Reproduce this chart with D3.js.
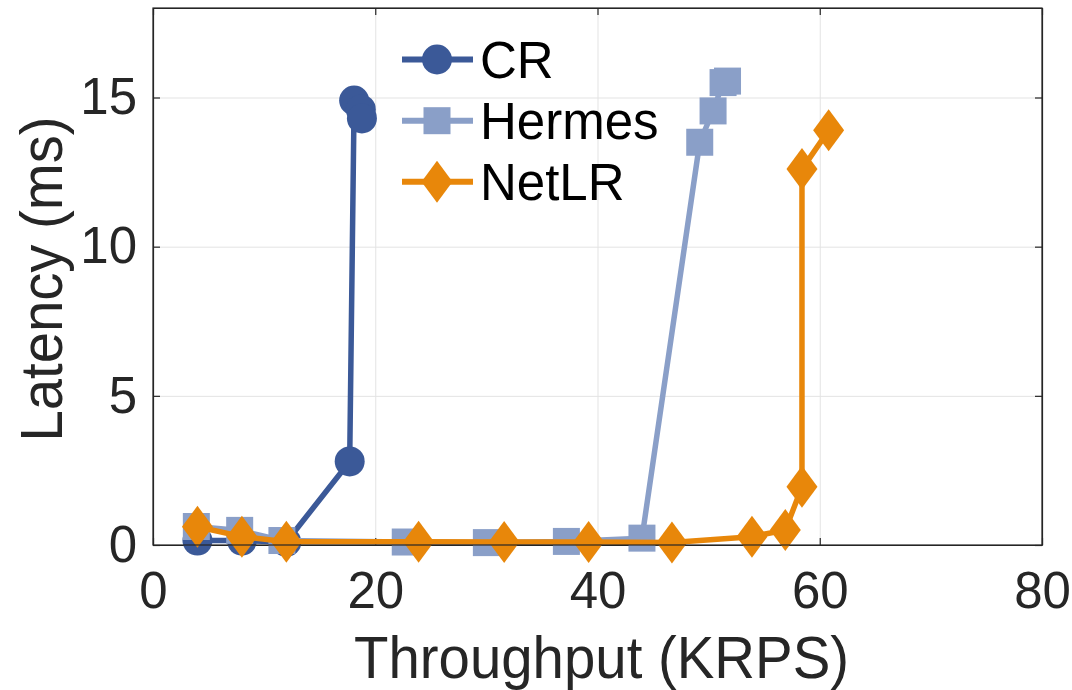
<!DOCTYPE html>
<html><head><meta charset="utf-8">
<script src="https://cdn.jsdelivr.net/npm/d3@7"></script>
<style>html,body{margin:0;padding:0;background:#fff;}svg{display:block;}</style>
</head><body>
<svg id="c" width="1072" height="690"></svg>
<script>
const seriesNames = ["CR", "Hermes", "NetLR"];
const seriesColors = ["#3b5998", "#8a9fc8", "#e8870a"];
const crX = [4.0, 8.0, 12.0, 17.7, 18.1, 18.7, 18.8];
const crY = [0.15, 0.15, 0.1, 2.8, 14.9, 14.6, 14.3];
const hermesX = [3.9, 7.8, 11.6, 22.7, 30.0, 37.2, 44.0, 49.2, 50.4, 51.3, 51.7];
const hermesY = [0.62, 0.49, 0.15, 0.1, 0.08, 0.12, 0.23, 13.5, 14.55, 15.5, 15.55];
const netlrX = [4.0, 8.0, 12.0, 23.9, 31.6, 39.2, 46.7, 53.9, 56.9, 58.4, 58.4, 60.8];
const netlrY = [0.61, 0.28, 0.11, 0.11, 0.1, 0.1, 0.08, 0.28, 0.5, 1.95, 12.6, 13.9];
const xTicks = [0, 20, 40, 60, 80];
const yTicks = [0, 5, 10, 15];
const xLabel = "Throughput (KRPS)";
const yLabel = "Latency (ms)";

const W = 1072, H = 690;
const m = {l: 153, r: 30, t: 8, b: 145};
const svg = d3.select("#c");
const x = d3.scaleLinear().domain([0, 80]).range([m.l, W - m.r]);
const y = d3.scaleLinear().domain([0, 18]).range([H - m.b, m.t]);
const pw = W - m.l - m.r, ph = H - m.t - m.b;
const FONT = "'Liberation Sans', Arial, Helvetica, sans-serif";
const TXT = "#262626";

// grid
svg.append("g").attr("transform", `translate(0,${H - m.b})`)
  .call(d3.axisBottom(x).tickValues(xTicks).tickSize(-ph).tickFormat(""))
  .call(g => { g.select(".domain").remove(); g.selectAll("line").attr("stroke", "#e3e3e3").attr("stroke-width", 1); });
svg.append("g").attr("transform", `translate(${m.l},0)`)
  .call(d3.axisLeft(y).tickValues(yTicks).tickSize(-pw).tickFormat(""))
  .call(g => { g.select(".domain").remove(); g.selectAll("line").attr("stroke", "#e3e3e3").attr("stroke-width", 1); });

// axes with inside ticks
function styleAxis(g) {
  g.select(".domain").attr("stroke", TXT).attr("stroke-width", 1.2);
  g.selectAll(".tick line").attr("stroke", TXT).attr("stroke-width", 1.2);
  g.selectAll("text").attr("fill", TXT).style("font-family", FONT).style("font-size", "51px");
}
svg.append("g").attr("transform", `translate(0,${H - m.b})`)
  .call(d3.axisBottom(x).tickValues(xTicks).tickSizeInner(-7).tickSizeOuter(0).tickPadding(27))
  .call(styleAxis);
svg.append("g").attr("transform", `translate(${m.l},0)`)
  .call(d3.axisLeft(y).tickValues(yTicks).tickSizeInner(-7).tickSizeOuter(0).tickPadding(16))
  .call(styleAxis);
svg.append("g").attr("transform", `translate(0,${m.t})`)
  .call(d3.axisTop(x).tickValues(xTicks).tickSizeInner(-7).tickSizeOuter(0).tickFormat(""))
  .call(styleAxis);
svg.append("g").attr("transform", `translate(${W - m.r},0)`)
  .call(d3.axisRight(y).tickValues(yTicks).tickSizeInner(-7).tickSizeOuter(0).tickFormat(""))
  .call(styleAxis);

// titles
svg.append("text").attr("x", (m.l + W - m.r) / 2 + 4).attr("y", 678)
  .attr("text-anchor", "middle").attr("fill", TXT)
  .attr("textLength", 495).attr("lengthAdjust", "spacingAndGlyphs")
  .style("font-family", FONT).style("font-size", "60px").text(xLabel);
svg.append("text").attr("transform", `translate(62,${279}) rotate(-90)`)
  .attr("text-anchor", "middle").attr("fill", TXT)
  .attr("textLength", 325).attr("lengthAdjust", "spacingAndGlyphs")
  .style("font-family", FONT).style("font-size", "60px").text(yLabel);

// markers
function marker(sel, type, color, cx, cy) {
  if (type === 0) {
    sel.append("circle").attr("cx", cx).attr("cy", cy).attr("r", 15).attr("fill", color);
  } else if (type === 1) {
    sel.append("rect").attr("x", cx - 13.5).attr("y", cy - 13.5).attr("width", 27).attr("height", 27).attr("fill", color);
  } else {
    sel.append("path").attr("d", `M${cx},${cy - 21}L${cx + 15.5},${cy}L${cx},${cy + 21}L${cx - 15.5},${cy}Z`).attr("fill", color);
  }
}

const allSeries = [[crX, crY], [hermesX, hermesY], [netlrX, netlrY]];
const line = d3.line().x(d => x(d[0])).y(d => y(d[1]));
allSeries.forEach((s, i) => {
  const pts = s[0].map((v, k) => [v, s[1][k]]);
  const g = svg.append("g");
  g.append("path").attr("d", line(pts)).attr("fill", "none")
    .attr("stroke", seriesColors[i]).attr("stroke-width", 5.5).attr("stroke-linejoin", "round");
  pts.forEach(p => marker(g, i, seriesColors[i], x(p[0]), y(p[1])));
});

// legend
const legRows = [59.5, 120.7, 181.7];
seriesNames.forEach((name, i) => {
  const g = svg.append("g");
  g.append("line").attr("x1", 402).attr("x2", 473).attr("y1", legRows[i]).attr("y2", legRows[i])
    .attr("stroke", seriesColors[i]).attr("stroke-width", 6);
  marker(g, i, seriesColors[i], 437, legRows[i]);
  g.append("text").attr("x", 480).attr("y", legRows[i] + 18).attr("fill", "#000")
    .style("font-family", FONT).style("font-size", "51px").text(name);
});

// box
svg.append("rect").attr("x", m.l).attr("y", m.t).attr("width", pw).attr("height", ph)
  .attr("fill", "none").attr("stroke", TXT).attr("stroke-width", 1.2);
</script>
</body></html>
